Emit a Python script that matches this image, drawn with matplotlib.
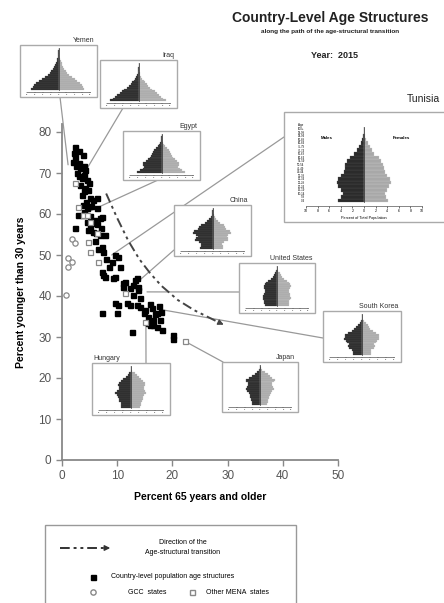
import numpy as np
import matplotlib
matplotlib.use('Agg')
import matplotlib.pyplot as plt
from matplotlib.patches import Rectangle, FancyArrowPatch

plt.rcParams['font.family'] = ['Liberation Sans', 'DejaVu Sans']

W, H = 444, 603

# ---- scatter data (percent 65+, percent under 30) ----
country_x = [2.4, 2.2, 3.0, 2.4, 3.8, 2.0, 3.0, 2.6, 3.9, 3.3, 4.2, 2.7, 3.1, 4.0, 3.6, 4.5,
             3.3, 4.9, 4.2, 4.7, 3.9, 3.6, 5.1, 5.6, 6.3, 4.4, 5.2, 3.8, 4.5, 6.3, 4.0, 2.9,
             7.2, 6.9, 3.8, 5.0, 5.8, 4.6, 6.4, 5.4, 2.4, 5.1, 4.7, 5.6, 6.1, 6.9, 7.8, 7.0,
             6.0, 7.2, 6.6, 7.4, 9.6, 10.2, 8.0, 9.0, 10.5, 8.5, 7.2, 7.8, 9.2, 7.4, 9.6, 11.0,
             11.5, 13.2, 13.6, 13.7, 12.9, 11.0, 12.3, 13.7, 12.8, 14.1, 9.6, 10.1, 11.7, 12.3,
             13.5, 14.1, 15.0, 16.3, 17.2, 15.6, 16.5, 17.7, 15.9, 17.2, 18.1, 16.8, 18.0, 14.8,
             16.0, 17.5, 15.5, 16.5, 7.2, 9.9, 12.7, 20.1, 20.1]
country_y = [76.3, 75.0, 75.3, 73.9, 74.4, 72.7, 72.5, 71.8, 71.8, 71.2, 70.7, 70.0, 69.3, 69.5, 68.8, 68.3,
             67.1, 67.5, 66.3, 65.9, 65.5, 64.6, 63.9, 63.4, 63.9, 63.0, 62.0, 62.2, 61.5, 61.5, 60.5, 59.8,
             59.3, 59.0, 59.8, 59.5, 58.5, 58.0, 57.5, 57.8, 56.6, 56.8, 56.1, 55.6, 55.4, 54.9, 54.9, 56.5,
             53.5, 52.0, 51.5, 50.7, 50.0, 49.6, 49.0, 48.3, 47.1, 47.0, 45.9, 44.6, 44.4, 45.1, 44.6, 43.2,
             43.5, 43.9, 44.4, 42.2, 42.8, 42.2, 41.9, 41.5, 40.2, 39.5, 38.3, 37.8, 38.3, 37.8,
             37.8, 37.3, 36.6, 37.1, 35.9, 34.9, 34.1, 34.1, 32.9, 32.4, 31.7, 35.5, 36.0, 35.8,
             38.0, 37.5, 33.5, 33.0, 35.9, 35.9, 31.2, 30.5, 29.5]

gcc_x = [1.8, 2.4, 1.0, 1.8, 1.1, 0.8]
gcc_y = [53.8, 52.9, 49.2, 48.3, 47.0, 40.2]

mena_x = [2.4, 2.9, 3.8, 4.5, 5.1, 6.3, 4.7, 5.1, 6.5, 11.4, 15.0, 22.2]
mena_y = [67.5, 61.8, 59.7, 59.8, 58.0, 55.3, 53.2, 50.7, 48.3, 40.7, 33.7, 29.0]

# direction of the age-structural transition
trend_x = [8, 10, 12, 14, 16, 18, 21, 24, 28.5]
trend_y = [65, 59, 53.5, 49, 45.5, 42.5, 39, 36.5, 33.5]

# ---- population pyramids (percent of total population, ages 0-4 ... 100+) ----
age_groups = ['0-4', '5-9', '10-14', '15-19', '20-24', '25-29', '30-34', '35-39', '40-44',
              '45-49', '50-54', '55-59', '60-64', '65-69', '70-74', '75-79', '80-84',
              '85-89', '90-94', '95-99', '100+']

yemen_m = [6.9, 6.5, 6.1, 5.6, 5.0, 4.2, 3.4, 2.7, 2.2, 1.8, 1.5, 1.2, 0.9, 0.7, 0.5, 0.3, 0.15, 0.07, 0.02, 0.01, 0.0]
yemen_f = [6.6, 6.3, 5.9, 5.4, 4.8, 4.1, 3.4, 2.7, 2.2, 1.8, 1.5, 1.2, 1.0, 0.8, 0.6, 0.4, 0.2, 0.08, 0.03, 0.01, 0.0]
iraq_m = [7.2, 6.6, 6.0, 5.4, 4.8, 4.2, 3.6, 3.0, 2.5, 2.0, 1.6, 1.2, 0.9, 0.6, 0.4, 0.25, 0.12, 0.05, 0.02, 0.0, 0.0]
iraq_f = [6.9, 6.3, 5.8, 5.2, 4.7, 4.1, 3.5, 3.0, 2.5, 2.1, 1.7, 1.3, 1.0, 0.7, 0.5, 0.3, 0.15, 0.06, 0.02, 0.0, 0.0]
egypt_m = [6.2, 5.4, 4.8, 4.5, 4.7, 4.6, 4.0, 3.4, 3.0, 2.7, 2.4, 2.1, 1.8, 1.4, 0.9, 0.55, 0.28, 0.1, 0.03, 0.01, 0.0]
egypt_f = [5.9, 5.1, 4.6, 4.3, 4.5, 4.5, 4.0, 3.4, 3.0, 2.7, 2.4, 2.1, 1.8, 1.4, 1.0, 0.6, 0.32, 0.12, 0.04, 0.01, 0.0]
tunisia_m = [4.4, 4.0, 3.7, 4.0, 4.4, 4.7, 4.4, 3.9, 3.5, 3.3, 3.2, 2.9, 2.5, 1.8, 1.2, 0.9, 0.6, 0.3, 0.1, 0.02, 0.0]
tunisia_f = [4.2, 3.8, 3.6, 3.9, 4.3, 4.7, 4.5, 4.0, 3.6, 3.4, 3.3, 3.0, 2.5, 1.8, 1.3, 1.0, 0.7, 0.35, 0.12, 0.03, 0.0]
china_m = [3.2, 3.0, 2.9, 3.4, 4.4, 4.1, 3.8, 4.2, 5.0, 4.6, 3.6, 3.4, 2.8, 1.9, 1.3, 0.9, 0.5, 0.2, 0.05, 0.01, 0.0]
china_f = [2.7, 2.6, 2.5, 3.0, 4.0, 3.9, 3.6, 4.0, 4.8, 4.4, 3.5, 3.3, 2.8, 1.9, 1.4, 1.0, 0.6, 0.3, 0.08, 0.02, 0.0]
us_m = [3.2, 3.3, 3.3, 3.5, 3.6, 3.5, 3.3, 3.2, 3.1, 3.3, 3.4, 3.2, 2.8, 2.3, 1.6, 1.1, 0.7, 0.4, 0.15, 0.03, 0.0]
us_f = [3.1, 3.2, 3.2, 3.3, 3.5, 3.4, 3.3, 3.2, 3.1, 3.4, 3.5, 3.4, 3.0, 2.5, 1.8, 1.4, 1.0, 0.7, 0.3, 0.08, 0.01]
korea_m = [2.3, 2.3, 2.5, 3.2, 3.6, 3.2, 3.7, 4.0, 4.4, 4.3, 4.3, 3.6, 2.6, 1.9, 1.4, 0.9, 0.4, 0.15, 0.04, 0.01, 0.0]
korea_f = [2.2, 2.2, 2.3, 2.9, 3.2, 2.9, 3.4, 3.8, 4.2, 4.2, 4.3, 3.6, 2.7, 2.1, 1.7, 1.4, 0.9, 0.4, 0.12, 0.02, 0.0]
japan_m = [2.0, 2.1, 2.2, 2.4, 2.5, 2.6, 2.9, 3.3, 3.7, 3.3, 3.1, 3.0, 3.5, 3.6, 2.8, 2.1, 1.4, 0.7, 0.2, 0.04, 0.0]
japan_f = [1.9, 2.0, 2.1, 2.2, 2.4, 2.5, 2.8, 3.2, 3.6, 3.3, 3.1, 3.1, 3.6, 3.8, 3.1, 2.6, 2.1, 1.4, 0.6, 0.15, 0.03]
hungary_m = [2.4, 2.5, 2.6, 2.9, 3.1, 3.2, 3.4, 3.9, 3.6, 3.1, 3.1, 3.2, 3.0, 2.4, 1.9, 1.3, 0.8, 0.4, 0.1, 0.02, 0.0]
hungary_f = [2.3, 2.4, 2.5, 2.8, 3.0, 3.1, 3.3, 3.8, 3.6, 3.2, 3.3, 3.6, 3.5, 3.0, 2.6, 2.0, 1.5, 0.9, 0.3, 0.06, 0.01]

# highlighted countries: position in the scatter (65+, <30)
highlight_names = ['Yemen', 'Iraq', 'Egypt', 'Tunisia', 'China', 'United States', 'South Korea', 'Japan', 'Hungary']
highlight_x = [1.1, 3.3, 4.7, 9.0, 14.1, 15.4, 18.3, 22.2, 15.2]
highlight_y = [72.0, 68.3, 60.5, 50.0, 43.9, 41.0, 36.6, 29.0, 33.4]


def fx(x):
    return x / W


def fy(y):
    return 1 - y / H


def fig_axes(x0, y0, x1, y1):
    # pixel box (top-left origin) -> add_axes rect
    return fig.add_axes([fx(x0), fy(y1), (x1 - x0) / W, (y1 - y0) / H])


fig = plt.figure(figsize=(4.44, 6.03), dpi=100)

# ---- main scatter ----
ax = fig_axes(62, 123.8, 338, 460)
ax.set_xlim(0, 50)
ax.set_ylim(0, 82)
for s in ['top', 'right']:
    ax.spines[s].set_visible(False)
for s in ['left', 'bottom']:
    ax.spines[s].set_color('#888888')
    ax.spines[s].set_linewidth(1.3)
ax.set_xticks(np.arange(0, 51, 10))
ax.set_yticks(np.arange(0, 81, 10))
ax.tick_params(colors='#888888', labelcolor='#555555', labelsize=8.5, length=4, width=1)
ax.set_xlabel('Percent 65 years and older', fontsize=7.5, fontweight='bold', labelpad=7)
ax.set_ylabel('Percent younger than 30 years', fontsize=7.5, fontweight='bold', labelpad=9)
ax.patch.set_alpha(0)

ax.plot(country_x, country_y, 's', color='black', ms=3.6, zorder=3)
ax.plot(gcc_x, gcc_y, 'o', mfc='white', mec='#888888', mew=0.9, ms=3.8, zorder=4)
ax.plot(mena_x, mena_y, 's', mfc='white', mec='#888888', mew=0.9, ms=3.6, zorder=4)

ax.plot(trend_x, trend_y, color='#444444', lw=1.4, dashes=[5, 2, 1.5, 2, 1.5, 2], zorder=2)
ax.annotate('', xy=(trend_x[-1] + 0.8, trend_y[-1] - 0.5), xytext=(trend_x[-1], trend_y[-1]),
            arrowprops=dict(arrowstyle='-|>', color='#444444', lw=1, mutation_scale=8,
                            shrinkA=0, shrinkB=0))

# ---- inset pyramids ----
insets = [
    # box (x0, y0, x1, y1) in pixels, anchor on box, label side
    ((20, 45, 97, 97), (60, 97), 'right', yemen_m, yemen_f),
    ((100, 60, 177, 108), (123, 108), 'right', iraq_m, iraq_f),
    ((123, 131, 200, 180), (158, 180), 'right', egypt_m, egypt_f),
    ((284, 112, 446, 222), (284, 137), 'right', tunisia_m, tunisia_f),
    ((174, 205, 251, 256), (174, 250), 'right', china_m, china_f),
    ((239, 263, 315, 313), (239, 292), 'right', us_m, us_f),
    ((323, 311, 401, 362), (323, 338), 'right', korea_m, korea_f),
    ((222, 362, 298, 412), (223, 362), 'right', japan_m, japan_f),
    ((92, 363, 170, 415), (146, 363), 'left', hungary_m, hungary_f),
]

ypos = np.arange(len(age_groups))
for i, (box, anchor, side, males, females) in enumerate(insets):
    name = highlight_names[i]
    x0, y0, x1, y1 = box
    # connector line
    ax.annotate('', xy=(highlight_x[i], highlight_y[i]), xycoords='data',
                xytext=(fx(anchor[0]), fy(anchor[1])), textcoords='figure fraction',
                arrowprops=dict(arrowstyle='-', color='#999999', lw=0.9, shrinkA=0, shrinkB=0),
                zorder=1)
    fig.add_artist(Rectangle((fx(x0), fy(y1)), (x1 - x0) / W, (y1 - y0) / H,
                             transform=fig.transFigure, facecolor='white',
                             edgecolor='#aaaaaa', lw=1, zorder=5, clip_on=False))
    big = name == 'Tunisia'
    if big:
        pax = fig_axes(306, 126, 422, 206)
        fig.text(fx(440), fy(104), name, fontsize=7.5, ha='right', va='bottom', color='#222222')
        lim = 10
    else:
        pax = fig_axes(x0 + 7, y0 + 3, x1 - 7, y1 - 5)
        if side == 'right':
            fig.text(fx(x1 - 3), fy(y0 - 1), name, fontsize=5, ha='right', va='bottom', color='#333333')
        else:
            fig.text(fx(x0 + 1), fy(y0 - 1), name, fontsize=5, ha='left', va='bottom', color='#333333')
        lim = 8
    pax.set_zorder(6)
    pax.patch.set_alpha(0)
    pax.barh(ypos, [-m for m in males], height=1.0, color='#2b2b2b', edgecolor='#555555', lw=0.2)
    pax.barh(ypos, females, height=1.0, color='#a8a8a8', edgecolor='#cccccc', lw=0.2)
    pax.plot([0, 0], [-0.5, len(age_groups) - 0.5], color='#222222', lw=0.5)
    pax.set_xlim(-lim, lim)
    pax.set_ylim(-1.5, len(age_groups) - 0.3)
    for s in ['top', 'right', 'left']:
        pax.spines[s].set_visible(False)
    pax.spines['bottom'].set_color('#555555')
    pax.spines['bottom'].set_linewidth(0.5)
    pax.set_xticks(np.arange(-lim, lim + 1, 2))
    pax.set_xticklabels([str(abs(t)) for t in range(-lim, lim + 1, 2)])
    if big:
        pax.tick_params(axis='x', labelsize=2.6, length=1.5, width=0.4, pad=1)
        pax.set_yticks(ypos)
        pax.set_yticklabels(age_groups)
        pax.tick_params(axis='y', labelsize=2.0, length=0, pad=1)
        pax.set_xlabel('Percent of Total Population', fontsize=2.8, labelpad=1.5)
        pax.text(-10.5, len(age_groups) - 0.5, 'Age', fontsize=2.2, ha='right', va='bottom')
        pax.text(-6.5, 17, 'Males', fontsize=3.2, fontweight='bold', ha='center')
        pax.text(6.5, 17, 'Females', fontsize=3.2, fontweight='bold', ha='center')
    else:
        pax.tick_params(axis='x', labelsize=1.6, length=1, width=0.3, pad=0.5)
        pax.set_yticks([])

# ---- titles ----
fig.text(fx(330), fy(18), 'Country-Level Age Structures', fontsize=10, fontweight='bold',
         ha='center', va='center', color='#222222')
fig.text(fx(330), fy(32), 'along the path of the age-structural transition', fontsize=4.6,
         fontweight='bold', ha='center', va='center', color='#222222')
fig.text(fx(334), fy(56), 'Year:  2015', fontsize=6.5, fontweight='bold',
         ha='center', va='center', color='#222222')

# ---- legend box ----
fig.add_artist(Rectangle((fx(45), fy(615)), 251 / W, 90 / H, transform=fig.transFigure,
                         facecolor='white', edgecolor='#999999', lw=1, clip_on=False))
fig.add_artist(plt.Line2D([fx(60), fx(104)], [fy(548), fy(548)], color='#333333', lw=1.4,
                          dashes=[5, 2, 1.5, 2, 1.5, 2], transform=fig.transFigure))
fig.add_artist(FancyArrowPatch((fx(102), fy(548)), (fx(113), fy(548)),
                               transform=fig.transFigure, arrowstyle='-|>',
                               mutation_scale=8, color='#333333', lw=1))
fig.text(fx(183), fy(543), 'Direction of the', fontsize=5, ha='center', va='center')
fig.text(fx(183), fy(553), 'Age-structural transition', fontsize=5, ha='center', va='center')
fig.add_artist(plt.Line2D([fx(93)], [fy(577)], marker='s', ms=3.6, color='black',
                          transform=fig.transFigure))
fig.text(fx(111), fy(577), 'Country-level population age structures', fontsize=5, va='center')
fig.add_artist(plt.Line2D([fx(93)], [fy(592)], marker='o', ms=3.8, mfc='white', mec='#888888',
                          transform=fig.transFigure))
fig.text(fx(128), fy(592), 'GCC  states', fontsize=5, va='center')
fig.add_artist(plt.Line2D([fx(192)], [fy(592)], marker='s', ms=3.6, mfc='white', mec='#888888',
                          transform=fig.transFigure))
fig.text(fx(206), fy(592), 'Other MENA  states', fontsize=5, va='center')

fig.savefig('out.png', dpi=100)
